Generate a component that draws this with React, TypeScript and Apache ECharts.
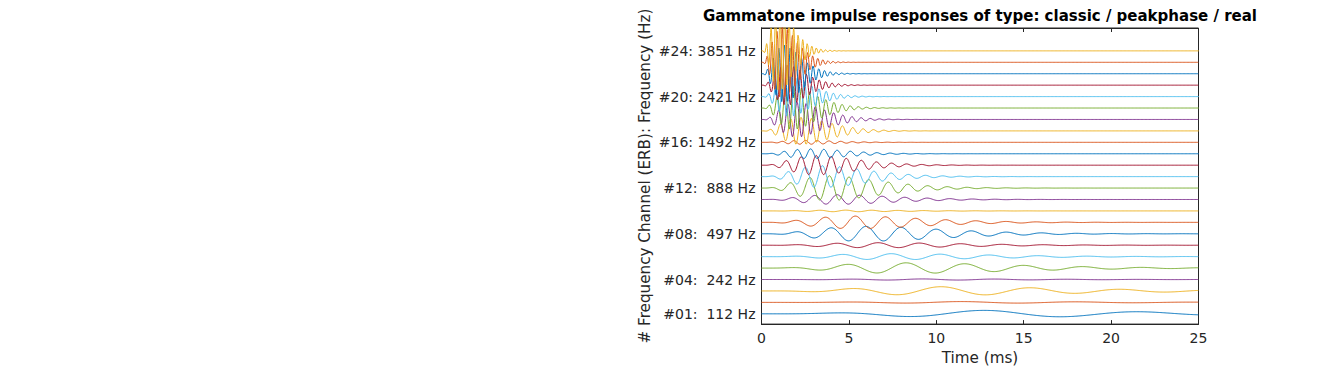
import React, { useEffect, useRef } from "react";
import * as echarts from "echarts";

// ---- data ----
const CHANNELS = [1, 2, 3, 4, 5, 6, 7, 8, 9, 10, 11, 12, 13, 14, 15, 16, 17, 18, 19, 20, 21, 22, 23, 24];
const CENTER_FREQS_HZ = [
  112, 151, 194, 242, 296, 356, 422, 497, 579, 672, 774, 888,
  1016, 1158, 1316, 1492, 1688, 1906, 2150, 2421, 2723, 3059, 3434, 3851,
];
// peak amplitude of each response, in channel spacings
const PEAK_AMPLITUDES = [
  0.3, 0.07, 0.37, 0.05, 0.46, 0.26, 0.22, 0.65, 0.55, 0.07, 0.42, 1.08,
  0.96, 0.85, 0.43, 0.17, 1.2, 1.55, 1.9, 1.75, 1.75, 2.5, 3.1, 3.5,
];
const LABELED_CHANNELS = [1, 4, 8, 12, 16, 20, 24];
const TIME_RANGE_MS = [0, 25];
const TIME_TICK_STEP_MS = 5;
const SAMPLE_RATE_HZ = 44100;
const FILTER_ORDER = 4;

const COLORS = ["#0072BD", "#D95319", "#EDB120", "#7E2F8E", "#77AC30", "#4DBEEE", "#A2142F"];
const FONT = "DejaVu Sans";
const TEXT_COLOR = "#262626";

function pad2(n: number) {
  return n < 10 ? "0" + n : "" + n;
}

function channelLabel(ch: number) {
  const f = CENTER_FREQS_HZ[ch - 1];
  return "#" + pad2(ch) + ": " + (f < 1000 ? "\u00a0" : "") + f + " Hz";
}

// classic 4th-order gammatone, peak-phase, real part
function impulseResponse(ch: number): number[][] {
  const f = CENTER_FREQS_HZ[ch - 1];
  const amp = PEAK_AMPLITUDES[ch - 1];
  const b = 1.019 * (24.7 + 0.108 * f);
  const tpk = (FILTER_ORDER - 1) / (2 * Math.PI * b);
  const n = Math.round(((TIME_RANGE_MS[1] - TIME_RANGE_MS[0]) / 1000) * SAMPLE_RATE_HZ);
  const out: number[][] = [];
  for (let i = 0; i <= n; i++) {
    const t = i / SAMPLE_RATE_HZ;
    const env = Math.pow(t / tpk, FILTER_ORDER - 1) * Math.exp(-2 * Math.PI * b * (t - tpk));
    const y = ch + amp * env * Math.cos(2 * Math.PI * f * (t - tpk));
    out.push([t * 1000, y]);
  }
  return out;
}

export default function App() {
  const ref = useRef<HTMLDivElement>(null);
  useEffect(() => {
    if (!ref.current) return;
    const chart = echarts.init(ref.current, undefined, { renderer: "svg" });
    const axisLine = { show: true, lineStyle: { color: TEXT_COLOR, width: 1 } };
    const tickStyle = { color: TEXT_COLOR, width: 1 };
    const tickLabelStyle = { color: TEXT_COLOR, fontFamily: FONT, fontSize: 14 };
    const nameStyle = { color: TEXT_COLOR, fontFamily: FONT, fontSize: 15.2 };
    chart.setOption({
      animation: false,
      backgroundColor: "#ffffff",
      graphic: [
        {
          type: "text",
          x: 980,
          y: 16,
          style: {
            text: "Gammatone impulse responses of type: classic / peakphase / real",
            align: "center",
            verticalAlign: "middle",
            fontFamily: FONT,
            fontWeight: "bold",
            fontSize: 15,
            fill: "#000000",
          },
        },
      ],
      grid: {
        left: 761.5,
        right: 126.5,
        top: 28,
        bottom: 44,
        show: true,
        borderColor: TEXT_COLOR,
        borderWidth: 1,
        backgroundColor: "transparent",
      },
      xAxis: [
        {
          type: "value",
          min: TIME_RANGE_MS[0],
          max: TIME_RANGE_MS[1],
          interval: TIME_TICK_STEP_MS,
          position: "bottom",
          axisLine,
          axisTick: { inside: true, length: 4, lineStyle: tickStyle },
          axisLabel: { ...tickLabelStyle, margin: 7 },
          splitLine: { show: false },
          name: "Time (ms)",
          nameLocation: "middle",
          nameGap: 24,
          nameTextStyle: nameStyle,
        },
        {
          type: "value",
          min: TIME_RANGE_MS[0],
          max: TIME_RANGE_MS[1],
          interval: TIME_TICK_STEP_MS,
          position: "top",
          axisLine,
          axisTick: { inside: true, length: 4, lineStyle: tickStyle },
          axisLabel: { show: false },
          splitLine: { show: false },
        },
      ],
      yAxis: [
        {
          type: "value",
          min: 0.1,
          max: 26,
          position: "left",
          axisLine,
          axisTick: { show: false },
          axisLabel: {
            ...tickLabelStyle,
            margin: 6,
            customValues: LABELED_CHANNELS,
            formatter: (v: number) => channelLabel(Math.round(v)),
          },
          splitLine: { show: false },
          name: "# Frequency Channel (ERB): Frequency (Hz)",
          nameLocation: "middle",
          nameGap: 109,
          nameTextStyle: nameStyle,
        },
        {
          type: "value",
          min: 0.1,
          max: 26,
          position: "right",
          axisLine,
          axisTick: { show: false },
          axisLabel: { show: false },
          splitLine: { show: false },
        },
      ],
      series: CHANNELS.map((ch, i) => ({
        type: "line",
        name: channelLabel(ch),
        xAxisIndex: 0,
        yAxisIndex: 0,
        data: impulseResponse(ch),
        showSymbol: false,
        symbol: "none",
        clip: true,
        silent: true,
        lineStyle: { color: COLORS[i % COLORS.length], width: 1 },
        itemStyle: { color: COLORS[i % COLORS.length] },
      })),
    });
    return () => chart.dispose();
  }, []);
  return (
    <div
      ref={ref}
      style={{ position: "absolute", left: 0, top: 0, width: 1325, height: 370 }}
    />
  );
}
